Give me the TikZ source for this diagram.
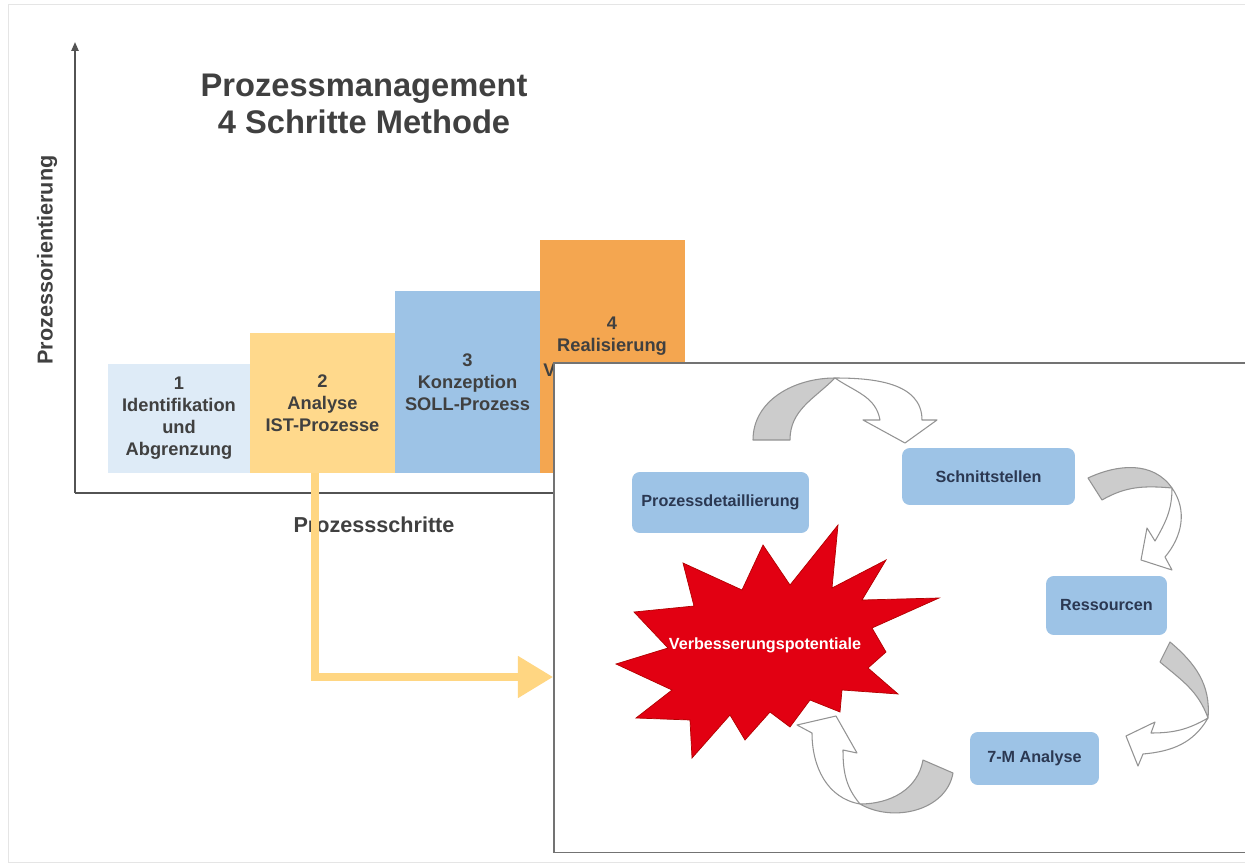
\documentclass[tikz,border=0pt]{standalone}
\usepackage{fontspec}
\setmainfont{Liberation Sans}
\usetikzlibrary{positioning,arrows.meta}
\definecolor{hellblau}{RGB}{222,235,247}
\definecolor{gelb}{RGB}{255,217,140}
\definecolor{blau}{RGB}{157,195,230}
\definecolor{orangebox}{RGB}{244,166,80}
\definecolor{pfeil}{RGB}{255,214,130}
\definecolor{sternrot}{RGB}{226,0,18}
\definecolor{textgrau}{RGB}{64,64,64}
\definecolor{boxtext}{RGB}{43,56,82}
\tikzset{
  stepbox/.style={inner sep=0pt, align=center, text=textgrau,
    font=\fontsize{10.4}{12.5}\selectfont\bfseries},
  subbox/.style={rounded corners=4.5pt, fill=blau, inner sep=0pt, text=boxtext,
    font=\fontsize{9.2}{11}\selectfont\bfseries},
  achse/.style={draw=textgrau!90, line width=1.1pt},
  axislabel/.style={text=textgrau, font=\fontsize{12.3}{14}\selectfont\bfseries},
  titel/.style={align=center, text=textgrau, font=\fontsize{18.6}{21.5}\selectfont\bfseries},
  insetbox/.style={draw=gray!90!black, line width=0.9pt, fill=white, inner sep=0pt},
  twistgrau/.style={fill=gray!40, draw=gray!85, line width=0.6pt, line join=round},
  twistweiss/.style={fill=white, draw=gray!85, line width=0.6pt, line join=round},
  pfeillinie/.style={draw=pfeil, line width=4pt, -{Triangle[length=20pt,width=23pt]}},
}

\begin{document}
\begin{tikzpicture}[x=0.02cm,y=-0.02cm]
  \useasboundingbox (0,0) rectangle (1245,865);
  \clip (0,0) rectangle (1245,865);
  \fill[white] (0,0) rectangle (1245,865);
  \draw[gray!20] (8,4) rectangle (1260,862);

  %axes
  \coordinate (ursprung) at (75,493);
  \coordinate (yspitze) at (75,42);
  \coordinate (xende) at (560,493);
  \draw[achse,-{Triangle[length=5pt,width=4pt]}] (ursprung) -- (yspitze);
  \draw[achse] (ursprung) -- (xende);
  \node[axislabel, rotate=90] (ylab) at (47,260) {Prozessorientierung};
  \node[axislabel] (xlab) at (374,525) {Prozessschritte};
  \node[titel] (titel) at (364,104) {Prozessmanagement\\4 Schritte Methode};

  %steps
  \node[stepbox, fill=hellblau, minimum width=2.84cm, minimum height=2.18cm] (s1) at (179,418.5) {1\\Identifikation\\und\\Abgrenzung};
  \node[stepbox, fill=gelb, minimum width=2.9cm, minimum height=2.8cm] (s2) at (322.5,403) {2\\Analyse\\IST-Prozesse};
  \node[stepbox, fill=blau, minimum width=2.9cm, minimum height=3.64cm] (s3) at (467.5,382) {3\\Konzeption\\SOLL-Prozess};
  \node[stepbox, fill=orangebox, minimum width=2.9cm, minimum height=4.66cm] (s4) at (612.5,356.5) {};
  \node[stepbox] (s4text) at (612,336) {4\\Realisierung};
  \node[stepbox, anchor=west] (s4v) at (543,370) {V};

  %detail window
  \node[insetbox, anchor=north west, minimum width=14.5cm, minimum height=9.8cm] (inset) at (553,362) {};
  \node[subbox, minimum width=3.54cm, minimum height=1.22cm] (p1) at (720.5,502.5) {Prozessdetaillierung};
  \node[subbox, minimum width=3.46cm, minimum height=1.14cm] (p2) at (988.5,476.5) {Schnittstellen};
  \node[subbox, minimum width=2.42cm, minimum height=1.18cm] (p3) at (1106.5,605.5) {Ressourcen};
  \node[subbox, minimum width=2.58cm, minimum height=1.06cm] (p4) at (1034.5,758.5) {7-M Analyse};

  %star
  \filldraw[fill=sternrot, draw=red!70!black, line width=0.4pt, line join=miter]
    (838,525) -- (832,588) -- (886,560) -- (862,600) -- (939,598) -- (872,628)
    -- (886,652) -- (868,668) -- (898,694) -- (842,690) -- (840,712) -- (810,700)
    -- (790,727) -- (770,712) -- (745,740) -- (730,715) -- (692,758) -- (690,720)
    -- (636,718) -- (672,690) -- (616,664) -- (668,648) -- (634,612) -- (694,606)
    -- (683,563) -- (742,590) -- (763,545) -- (790,585) -- cycle;
  \node[text=white, font=\fontsize{9.2}{11}\selectfont\bfseries] (stern) at (765,645) {Verbesserungspotentiale};

  %curved arrows
  \draw[twistgrau] (753,440) to[out=90,in=180] (835,378)
    to[out=225,in=90] (790,440) -- cycle;
  \draw[twistweiss] (835,378) to[out=0,in=90] (922,420) -- (937,420) -- (905,443)
    -- (863,420) -- (880,420) to[out=100,in=-35] (835,378) -- cycle;

  \draw[twistgrau] (1088,478) to[out=25,in=125] (1172,488)
    to[out=175,in=30] (1102,500) -- cycle;
  \draw[twistweiss] (1172,488) to[out=-55,in=50] (1165,557) -- (1172,570) -- (1141,560)
    -- (1147,528) -- (1155,541) to[out=60,in=-90] (1172,488) -- cycle;

  \draw[twistgrau] (1170,642) to[out=-40,in=85] (1208,718)
    to[out=110,in=-40] (1160,662) -- cycle;
  \draw[twistweiss] (1208,718) to[out=-150,in=0] (1151,733) -- (1155,722) -- (1126,736)
    -- (1138,766) -- (1143,754) to[out=5,in=-120] (1208,718) -- cycle;

  \draw[twistgrau] (923,760) to[out=-100,in=0] (860,804)
    to[out=-30,in=-100] (953,773) -- cycle;
  \draw[twistweiss] (860,804) to[out=170,in=-90] (812,733) -- (797,725) -- (836,716)
    -- (857,753) -- (843,750) to[out=-90,in=130] (860,804) -- cycle;

  %link from step 2 to the window
  \coordinate (knick) at (315,677);
  \coordinate (ziel) at (inset.west |- knick);
  \draw[pfeillinie] (s2.south -| knick) -- (knick) -- (ziel);
\end{tikzpicture}
\end{document}
